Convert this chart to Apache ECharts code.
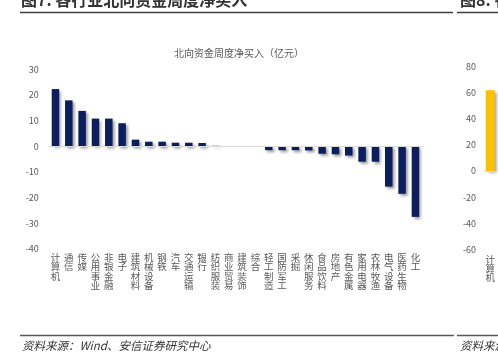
<!DOCTYPE html>
<html>
<head>
<meta charset="utf-8">
<script src="https://cdn.jsdelivr.net/npm/echarts@6/dist/echarts.min.js"></script>
<style>
html,body{margin:0;padding:0;background:#fff;}
#c{width:498px;height:356px;}
</style>
</head>
<body>
<div id="c"></div>
<script>
// Left chart data
var categories = ['计算机','通信','传媒','公用事业','非银金融','电子','建筑材料','机械设备','钢铁','汽车','交通运输','银行','纺织服装','商业贸易','建筑装饰','综合','轻工制造','国防军工','采掘','休闲服务','食品饮料','房地产','有色金属','家用电器','农林牧渔','电气设备','医药生物','化工'];
var values = [22.3, 17.9, 13.8, 10.8, 10.8, 9.0, 2.6, 1.8, 1.8, 1.4, 1.4, 1.3, 0.2, -0.05, -0.05, -0.05, -1.5, -1.5, -1.5, -1.6, -2.9, -3.1, -3.6, -6.0, -6.0, -15.7, -18.5, -27.5];
var yTicks = {min: -40, max: 30, interval: 10};
// Right (partially visible) chart data
var categories2 = ['计算机'];
var values2 = [62];
var yTicks2 = {min: -60, max: 80, interval: 20};

var title = '北向资金周度净买入（亿元）';
var header = '图7: 各行业北向资金周度净买入';
var header2 = '图8: 各行业北向资金持股市值';
var source = '资料来源：Wind、安信证券研究中心';
var source2 = '资料来源：Wind、安信证券研究中心';

var FONT = '"Noto Sans CJK SC", "Microsoft YaHei", sans-serif';
var labelColor = '#595959';
var shadow = {shadowColor: 'rgba(0,0,0,0.4)', shadowBlur: 3, shadowOffsetX: 2, shadowOffsetY: 2};

function vert(v){ return v.split('').join('\n'); }

var chart = echarts.init(document.getElementById('c'), null, {renderer: 'canvas'});
chart.setOption({
  animation: false,
  backgroundColor: '#fff',
  textStyle: {fontFamily: FONT},
  title: {
    text: title, left: 234, top: 43, textAlign: 'center',
    textStyle: {fontSize: 10, fontWeight: 'normal', color: labelColor, fontFamily: FONT}
  },
  grid: [
    {left: 48.8, top: 69.3, width: 373.3, height: 179.7},
    {left: 484, top: 66.7, width: 17, height: 182.6}
  ],
  xAxis: [
    {type: 'category', gridIndex: 0, data: categories,
     axisLine: {show: false, onZero: false}, axisTick: {show: false},
     axisLabel: {interval: 0, color: labelColor, fontSize: 9.5, lineHeight: 9.2, margin: 4,
       verticalAlign: 'top', formatter: vert, fontFamily: FONT}},
    {type: 'category', gridIndex: 1, data: categories2,
     axisLine: {show: false, onZero: false}, axisTick: {show: false},
     axisLabel: {interval: 0, color: labelColor, fontSize: 9.5, lineHeight: 9.2, margin: 5,
       verticalAlign: 'top', formatter: vert, fontFamily: FONT}}
  ],
  yAxis: [
    {type: 'value', gridIndex: 0, min: yTicks.min, max: yTicks.max, interval: yTicks.interval,
     axisLine: {show: false}, axisTick: {show: false}, splitLine: {show: false},
     axisLabel: {color: labelColor, fontSize: 9, margin: 10, fontFamily: FONT}},
    {type: 'value', gridIndex: 1, min: yTicks2.min, max: yTicks2.max, interval: yTicks2.interval,
     axisLine: {show: false}, axisTick: {show: false}, splitLine: {show: false},
     axisLabel: {color: labelColor, fontSize: 9, margin: 8, fontFamily: FONT}}
  ],
  series: [
    {type: 'bar', xAxisIndex: 0, yAxisIndex: 0, data: values, barWidth: 7.5,
     itemStyle: Object.assign({color: '#0b1f5e'}, shadow),
     markLine: {silent: true, symbol: 'none', label: {show: false},
       lineStyle: {color: '#d9d9d9', width: 1, type: 'solid'}, data: [{yAxis: 0}]}},
    {type: 'bar', xAxisIndex: 1, yAxisIndex: 1, data: values2, barWidth: 9,
     itemStyle: Object.assign({color: '#ffc000'}, shadow),
     markLine: {silent: true, symbol: 'none', label: {show: false},
       lineStyle: {color: '#d9d9d9', width: 1, type: 'solid'}, data: [{yAxis: 0}]}}
  ],
  graphic: [
    {type: 'text', left: 21, top: -8, style: {text: header, fontSize: 16, fontWeight: 'bold', fill: '#333', fontFamily: FONT}},
    {type: 'text', left: 460, top: -8, style: {text: header2, fontSize: 16, fontWeight: 'bold', fill: '#333', fontFamily: FONT}},
    {type: 'line', shape: {x1: 20, y1: 12.5, x2: 453, y2: 12.5}, style: {stroke: '#404040', lineWidth: 1.6}},
    {type: 'line', shape: {x1: 457, y1: 12.5, x2: 498, y2: 12.5}, style: {stroke: '#404040', lineWidth: 1.6}},
    {type: 'line', shape: {x1: 20, y1: 335.5, x2: 454, y2: 335.5}, style: {stroke: '#595959', lineWidth: 1.4}},
    {type: 'line', shape: {x1: 457, y1: 335.5, x2: 498, y2: 335.5}, style: {stroke: '#595959', lineWidth: 1.4}},
    {type: 'text', left: 22, top: 340, style: {text: source, fontSize: 11.5, fontStyle: 'italic', fill: '#333', fontFamily: FONT}},
    {type: 'text', left: 460, top: 340, style: {text: source2, fontSize: 11.5, fontStyle: 'italic', fill: '#333', fontFamily: FONT}}
  ]
});
</script>
</body>
</html>
